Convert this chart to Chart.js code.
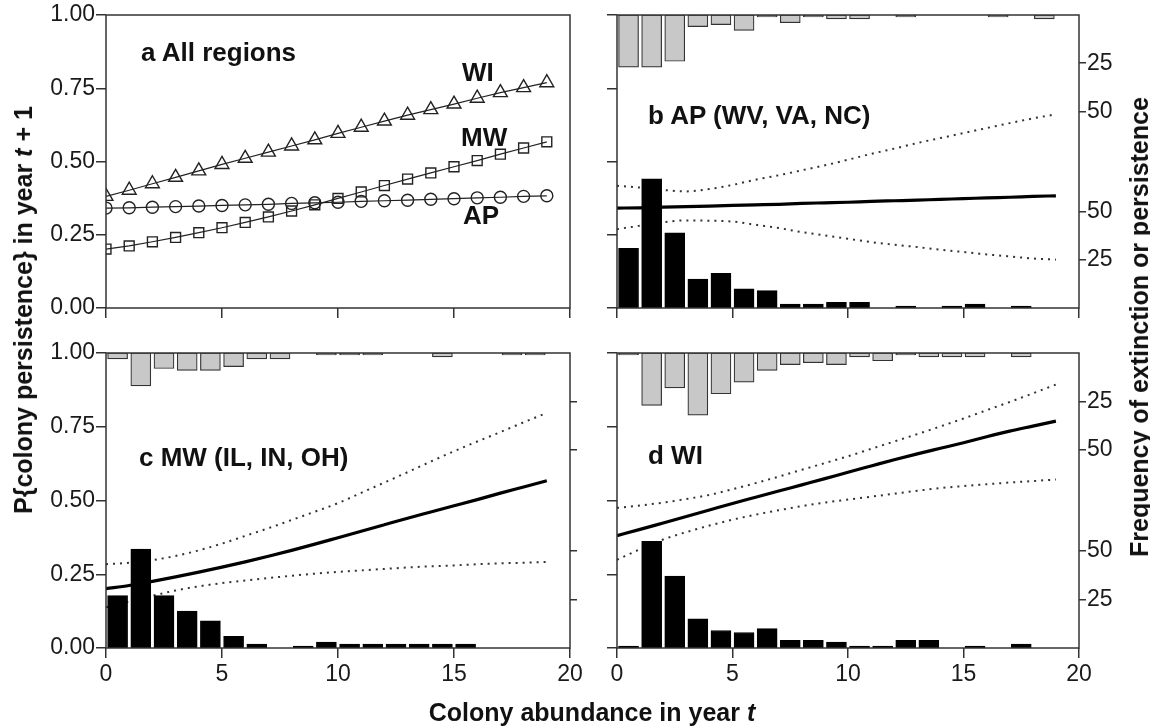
<!DOCTYPE html>
<html>
<head>
<meta charset="utf-8">
<title>Colony persistence</title>
<script src="https://cdn.jsdelivr.net/npm/chart.js@4.4.1/dist/chart.umd.min.js"></script>
<style>
  body { margin: 0; background: #fff; }
  #wrap { position: relative; width: 1150px; height: 728px; overflow: hidden; background: #fff;
          font-family: 'Liberation Sans', Arial, Helvetica, sans-serif; color: #111; }
  #wrap canvas { position: absolute; left: 0; top: 0; }
  .lbl { position: absolute; font-weight: bold; font-size: 26px; line-height: 30px; white-space: nowrap; z-index: 5; }
  .title { position: absolute; font-weight: bold; font-size: 25px; line-height: 30px; white-space: nowrap; z-index: 5;
           transform: translate(-50%, -50%); }
  .vtitle { transform: translate(-50%, -50%) rotate(-90deg); }
</style>
</head>
<body>
<div id="wrap">
  <canvas id="chartA" width="1150" height="728"></canvas>
  <canvas id="chartB" width="1150" height="728"></canvas>
  <canvas id="chartC" width="1150" height="728"></canvas>
  <canvas id="chartD" width="1150" height="728"></canvas>

  <div class="lbl" style="left:141px; top:37px;">a All regions</div>
  <div class="lbl" style="left:462px; top:57px;">WI</div>
  <div class="lbl" style="left:461px; top:122px;">MW</div>
  <div class="lbl" style="left:463px; top:200px;">AP</div>
  <div class="lbl" style="left:648px; top:100px;">b AP (WV, VA, NC)</div>
  <div class="lbl" style="left:139px; top:442px;">c MW (IL, IN, OH)</div>
  <div class="lbl" style="left:648px; top:440px;">d WI</div>

  <div class="title" style="left:592px; top:712px;">Colony abundance in year <i>t</i></div>
  <div class="title vtitle" style="left:23px; top:310px;">P{colony persistence} in year <i>t</i> + 1</div>
  <div class="title vtitle" style="left:1139px; top:327px;">Frequency of extinction or persistence</div>
</div>

<script>
// Colony abundance (x) and histogram bin centres
const abundance = [0, 1, 2, 3, 4, 5, 6, 7, 8, 9, 10, 11, 12, 13, 14, 15, 16, 17, 18, 19];
const binCenters = [0.5, 1.5, 2.5, 3.5, 4.5, 5.5, 6.5, 7.5, 8.5, 9.5, 10.5, 11.5, 12.5, 13.5, 14.5, 15.5, 16.5, 17.5, 18.5, 19.5];

// Tick labels
const probTicks = [0, 0.25, 0.5, 0.75, 1];
const countTicks = [25, 50];

// Fitted persistence probabilities
const apFit = [0.341, 0.342, 0.344, 0.346, 0.348, 0.350, 0.352, 0.354, 0.357, 0.359, 0.361, 0.364, 0.366, 0.368, 0.371, 0.373, 0.376, 0.378, 0.381, 0.383];
const mwFit = [0.201, 0.212, 0.226, 0.241, 0.257, 0.274, 0.292, 0.311, 0.331, 0.352, 0.374, 0.396, 0.418, 0.440, 0.461, 0.482, 0.503, 0.525, 0.546, 0.567];
const wiFit = [0.381, 0.402, 0.424, 0.446, 0.468, 0.490, 0.511, 0.532, 0.553, 0.574, 0.596, 0.617, 0.638, 0.658, 0.677, 0.696, 0.716, 0.735, 0.752, 0.769];

// Confidence bands
const apUpper = [0.417, 0.411, 0.403, 0.398, 0.406, 0.420, 0.438, 0.453, 0.470, 0.487, 0.506, 0.526, 0.544, 0.563, 0.580, 0.597, 0.614, 0.631, 0.647, 0.661];
const apLower = [0.269, 0.281, 0.293, 0.299, 0.298, 0.295, 0.284, 0.273, 0.259, 0.248, 0.236, 0.225, 0.216, 0.208, 0.199, 0.191, 0.183, 0.176, 0.169, 0.165];
const mwUpper = [0.284, 0.289, 0.298, 0.312, 0.331, 0.354, 0.380, 0.406, 0.434, 0.462, 0.491, 0.526, 0.561, 0.596, 0.632, 0.667, 0.700, 0.732, 0.765, 0.797];
const mwLower = [0.138, 0.158, 0.177, 0.195, 0.209, 0.220, 0.229, 0.237, 0.245, 0.252, 0.258, 0.263, 0.268, 0.273, 0.277, 0.280, 0.284, 0.287, 0.289, 0.292];
const wiUpper = [0.475, 0.483, 0.493, 0.505, 0.519, 0.538, 0.559, 0.581, 0.604, 0.627, 0.650, 0.675, 0.700, 0.725, 0.751, 0.778, 0.806, 0.834, 0.863, 0.893];
const wiLower = [0.299, 0.335, 0.368, 0.393, 0.415, 0.435, 0.452, 0.467, 0.481, 0.493, 0.503, 0.513, 0.523, 0.533, 0.542, 0.549, 0.555, 0.561, 0.566, 0.571];

// Frequencies: extinction (grey, hanging from top) and persistence (black, from bottom)
const apExtinct = [27, 27, 24, 6, 5, 8, 1, 4, 1, 2, 2, 0, 1, 0, 0, 0, 1, 0, 2, 0];
const apPersist = [31, 67, 39, 15, 18, 10, 9, 2, 2, 3, 3, 0, 1, 0, 1, 2, 0, 1, 0, 0];
const mwExtinct = [3, 17, 8, 9, 9, 7, 3, 3, 0, 1, 1, 1, 0, 0, 2, 0, 0, 1, 1, 0];
const mwPersist = [27, 51, 27, 19, 14, 6, 2, 0, 1, 3, 2, 2, 2, 2, 2, 2, 0, 0, 0, 0];
const wiExtinct = [1, 27, 18, 32, 21, 15, 9, 6, 5, 6, 2, 4, 1, 2, 2, 2, 0, 2, 0, 0];
const wiPersist = [1, 55, 37, 15, 9, 8, 10, 4, 4, 3, 1, 1, 4, 4, 0, 1, 0, 2, 0, 0];

Chart.defaults.font.family = "'Liberation Sans', Arial, Helvetica, sans-serif";
Chart.defaults.animation = false;

const FRAME = '#333';
const TICK_FONT = { size: 23 };
const COUNT_MAX = 152;   // right axis range covering the whole panel height
const LEFT_W = 60, BOTTOM_H = 40, RIGHT_W = 50;

function xy(values) {
    return abundance.map((x, i) => ({ x: x, y: values[i] }));
}

function lowerBars(counts) {
    return counts.map((c, i) => c > 0 ? { x: binCenters[i], y: c } : null).filter(Boolean);
}

function upperBars(counts) {
    return counts.map((c, i) => c > 0 ? { x: binCenters[i], y: [COUNT_MAX - c, COUNT_MAX] } : null).filter(Boolean);
}

// Box round the plot area
const framePlugin = {
    id: 'frame',
    afterDatasetsDraw(chart) {
        const { ctx, chartArea: a } = chart;
        ctx.save();
        ctx.strokeStyle = FRAME;
        ctx.lineWidth = 1.5;
        ctx.strokeRect(a.left, a.top, a.right - a.left, a.bottom - a.top);
        ctx.restore();
    }
};

function buildScales(p) {
    const scales = {
        x: {
            type: 'linear', min: 0, max: 20, offset: false,
            border: { display: false },
            grid: { drawOnChartArea: false, tickLength: 10, color: FRAME, lineWidth: 1.5, offset: false },
            ticks: { display: p.xLabels, stepSize: 5, padding: 3, color: '#1a1a1a', font: TICK_FONT, maxRotation: 0, autoSkip: false },
            afterFit: sc => { sc.height = BOTTOM_H; }
        },
        y: {
            type: 'linear', min: 0, max: 1, position: 'left',
            border: { display: false },
            grid: { drawOnChartArea: false, tickLength: 10, color: FRAME, lineWidth: 1.5 },
            ticks: { display: p.yLabels, padding: 1, color: '#1a1a1a', font: TICK_FONT, callback: v => v.toFixed(2) },
            afterBuildTicks: sc => { sc.ticks = probTicks.map(v => ({ value: v })); },
            afterFit: sc => { sc.width = LEFT_W; }
        }
    };
    if (p.counts) {
        scales.y2 = {
            type: 'linear', min: 0, max: COUNT_MAX, position: 'right',
            border: { display: false },
            grid: { drawOnChartArea: false, tickLength: 7, color: FRAME, lineWidth: 1.5 },
            ticks: {
                display: p.countLabels, padding: 1, color: '#1a1a1a', font: TICK_FONT,
                callback: v => String(v > COUNT_MAX / 2 ? COUNT_MAX - v : v)
            },
            afterBuildTicks: sc => {
                sc.ticks = countTicks.concat(countTicks.map(v => COUNT_MAX - v).reverse()).map(v => ({ value: v }));
            },
            afterFit: sc => { sc.width = RIGHT_W; }
        };
    }
    return scales;
}

function makePanel(id, area, datasets, p) {
    new Chart(document.getElementById(id), {
        type: 'bar',
        data: { datasets: datasets },
        options: {
            responsive: false,
            devicePixelRatio: 1,
            layout: {
                padding: {
                    left: area.l - LEFT_W,
                    right: 1150 - area.r - (p.counts ? RIGHT_W : 0),
                    top: area.t,
                    bottom: 728 - area.b - BOTTOM_H
                }
            },
            scales: buildScales(p),
            plugins: { legend: { display: false }, tooltip: { enabled: false } }
        },
        plugins: [framePlugin]
    });
}

function fitLine(values) {
    return { type: 'line', data: xy(values), yAxisID: 'y', borderColor: '#000', borderWidth: 3.2,
             pointRadius: 0, cubicInterpolationMode: 'monotone', order: 1 };
}

function bandLine(values) {
    return { type: 'line', data: xy(values), yAxisID: 'y', borderColor: '#333', borderWidth: 2,
             borderDash: [2, 5], pointRadius: 0, cubicInterpolationMode: 'monotone', order: 1 };
}

function histBars(extinct, persist) {
    return [
        { type: 'bar', data: upperBars(extinct), yAxisID: 'y2', backgroundColor: '#c8c8c8', borderColor: '#333',
          borderWidth: 1.2, borderSkipped: false, barThickness: 20, grouped: false, order: 0 },
        { type: 'bar', data: lowerBars(persist), yAxisID: 'y2', backgroundColor: '#000', borderColor: '#000',
          borderWidth: 1, barThickness: 20, grouped: false, order: 0 }
    ];
}

function markerLine(values, style, radius) {
    return { type: 'line', data: xy(values), yAxisID: 'y', borderColor: '#222', borderWidth: 1.2,
             pointStyle: style, pointRadius: radius, pointBorderWidth: 1.4, pointBorderColor: '#222',
             pointBackgroundColor: 'rgba(255,255,255,0)', tension: 0 };
}

// a All regions
makePanel('chartA', { l: 106, r: 570, t: 15, b: 308 }, [
    markerLine(wiFit, 'triangle', 8),
    markerLine(mwFit, 'rect', 7),
    markerLine(apFit, 'circle', 6)
], { xLabels: false, yLabels: true, counts: false });

// b AP
makePanel('chartB', { l: 617, r: 1079, t: 15, b: 308 },
    [fitLine(apFit), bandLine(apUpper), bandLine(apLower)].concat(histBars(apExtinct, apPersist)),
    { xLabels: false, yLabels: false, counts: true, countLabels: true });

// c MW
makePanel('chartC', { l: 106, r: 570, t: 353, b: 648 },
    [fitLine(mwFit), bandLine(mwUpper), bandLine(mwLower)].concat(histBars(mwExtinct, mwPersist)),
    { xLabels: true, yLabels: true, counts: true, countLabels: false });

// d WI
makePanel('chartD', { l: 617, r: 1079, t: 353, b: 648 },
    [fitLine(wiFit), bandLine(wiUpper), bandLine(wiLower)].concat(histBars(wiExtinct, wiPersist)),
    { xLabels: true, yLabels: false, counts: true, countLabels: true });
</script>
</body>
</html>
